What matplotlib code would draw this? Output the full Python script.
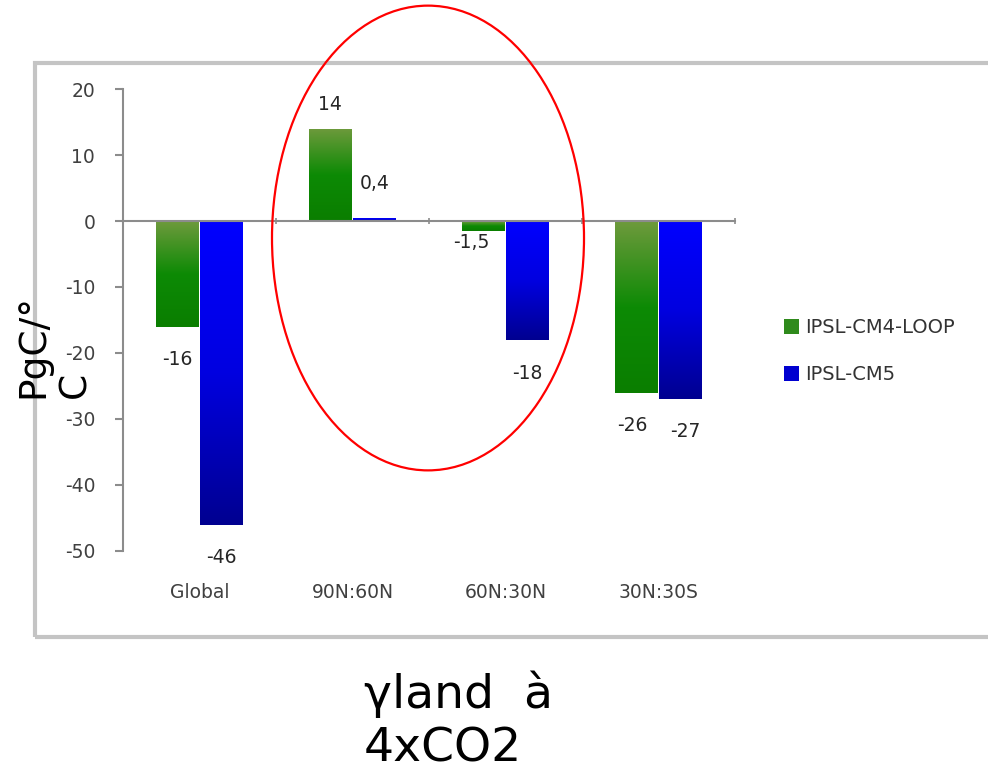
import numpy as np
import matplotlib
matplotlib.use('Agg')
import matplotlib.pyplot as plt
from matplotlib.patches import Rectangle, Ellipse
from matplotlib.colors import LinearSegmentedColormap

plt.rcParams['axes.unicode_minus'] = False

# data
regions = ['Global', '90N:60N', '60N:30N', '30N:30S']
loop_vals = [-16, 14, -1.5, -26]     # IPSL-CM4-LOOP
cm5_vals = [-46, 0.4, -18, -27]      # IPSL-CM5
series_names = ['IPSL-CM4-LOOP', 'IPSL-CM5']
yticks = [-50, -40, -30, -20, -10, 0, 10, 20]

# label offsets (points) - Excel "outside end" style, a few nudged
loop_offsets = [(0, -24), (0, 17), (-9, -8), (-3, -24)]
cm5_offsets = [(0, -24), (0, 25), (0, -24), (3, -23)]

green_cmap = LinearSegmentedColormap.from_list('g', ['#6e9a3c', '#0d8a05', '#0a7e00'])
blue_cmap = LinearSegmentedColormap.from_list('b', ['#0000ff', '#0000e0', '#000090'])

fig = plt.figure(figsize=(9.88, 7.72), dpi=100)

# grey frame of the pasted chart
fig.patches.append(Rectangle((0.0354, 0.175), 1.0, 0.743, transform=fig.transFigure,
                             fill=False, edgecolor='#c4c4c4', linewidth=3))

ax = fig.add_axes([0.1245, 0.2863, 0.6195, 0.5984])
x = np.arange(len(regions))
w = 0.28
b1 = ax.bar(x - 0.145, loop_vals, w, color='#2e8a1a', label=series_names[0])
b2 = ax.bar(x + 0.145, cm5_vals, w, color='#0000e8', label=series_names[1])

# vertical gradient inside each bar
grad = np.linspace(0, 1, 256).reshape(-1, 1)
for bars, cmap in [(b1, green_cmap), (b2, blue_cmap)]:
    for p in bars:
        x0, y0 = p.get_x(), p.get_y()
        x1, y1 = x0 + p.get_width(), y0 + p.get_height()
        top, bot = max(y0, y1), min(y0, y1)
        im = ax.imshow(grad, cmap=cmap, aspect='auto', extent=(x0, x1, bot, top),
                       origin='upper', zorder=2)
        im.set_clip_path(p)
        p.set_alpha(0)
ax.set_xlim(-0.5, 3.5)
ax.set_ylim(-50, 20)

def fmt(v):
    return ('%g' % v).replace('.', ',')

for bars, vals, offs in [(b1, loop_vals, loop_offsets), (b2, cm5_vals, cm5_offsets)]:
    for p, v, o in zip(bars, vals, offs):
        ax.annotate(fmt(v), (p.get_x() + p.get_width() / 2, v), xytext=o,
                    textcoords='offset points', ha='center', va='center',
                    fontsize=13.5, color='#262626')

for s in ['top', 'right']:
    ax.spines[s].set_visible(False)
ax.spines['bottom'].set_position(('data', 0))
ax.spines['bottom'].set_color('#8c8c8c')
ax.spines['left'].set_color('#8c8c8c')
ax.spines['bottom'].set_linewidth(1.5)
ax.spines['left'].set_linewidth(1.5)
ax.set_yticks(yticks)
ax.tick_params(axis='y', colors='#8c8c8c', labelcolor='#404040', labelsize=13.5,
               length=6, width=1.5, pad=14)
ax.set_xticks(np.arange(0.5, 4, 1))
ax.set_xticklabels([])
ax.tick_params(axis='x', colors='#8c8c8c', length=5, width=1.2, direction='inout')
for i, r in enumerate(regions):
    ax.text(i, -0.09, r, transform=ax.get_xaxis_transform(), ha='center', va='center',
            fontsize=13.5, color='#404040')

fig.legend(handles=[b1.patches[0], b2.patches[0]], labels=series_names,
           loc='center left', bbox_to_anchor=(0.776, 0.545), frameon=False,
           fontsize=14, handlelength=0.75, handleheight=0.75, handletextpad=0.35,
           labelspacing=1.45, labelcolor='#333333')
for h, c in zip(fig.legends[0].legend_handles, ['#2f8a1c', '#0000d0']):
    h.set_alpha(1)
    h.set_facecolor(c)

# red ellipse highlighting the northern regions
fig.patches.append(Ellipse((0.4332, 0.6917), 0.3158, 0.602, transform=fig.transFigure,
                           fill=False, edgecolor='red', linewidth=1.6))

# y label wrapped over two lines like the slide
fig.text(0.034, 0.485, 'PgC/°', rotation=90, ha='center', va='bottom', fontsize=27)
fig.text(0.076, 0.485, 'C', rotation=90, ha='center', va='bottom', fontsize=27)
fig.text(0.368, 0.0, 'γland  à\n4xCO2', ha='left', va='bottom', fontsize=34,
         linespacing=1.25)

fig.savefig('out.png', dpi=100)
